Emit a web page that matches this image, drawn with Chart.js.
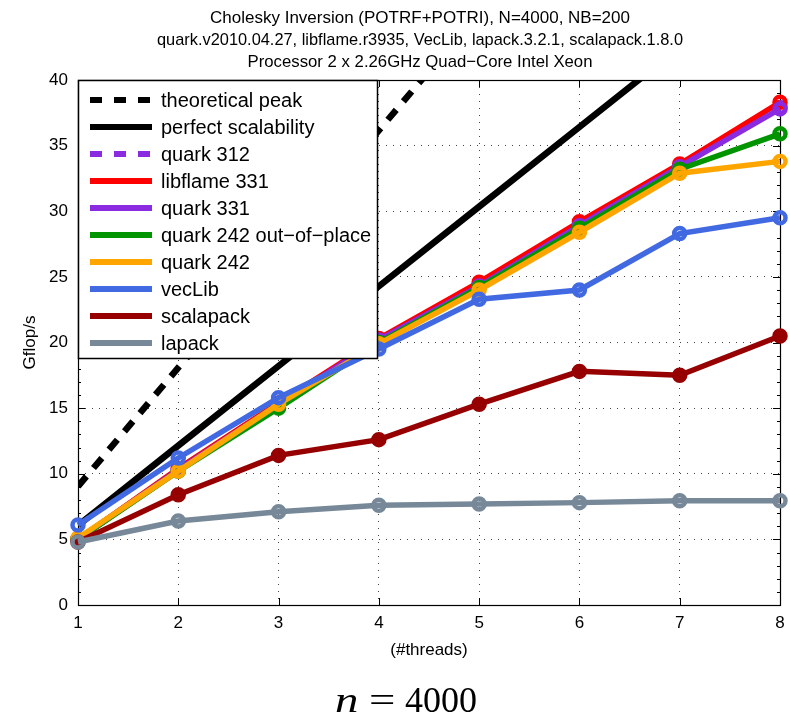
<!DOCTYPE html>
<html>
<head>
<meta charset="utf-8">
<script src="https://cdn.jsdelivr.net/npm/chart.js@4.4.0/dist/chart.umd.min.js"></script>
<style>
  html, body { margin: 0; padding: 0; background: #fff; }
  #wrap { width: 790px; height: 721px; }
</style>
</head>
<body>
<div id="wrap"><canvas id="chartCanvas"></canvas></div>
<script>
// values (Gflop/s per thread count)
const threads = [1, 2, 3, 4, 5, 6, 7, 8];
const theoreticalPeak = [9.04, 18.08, 27.12, 36.16, 45.2];
const perfectScalability = [6.07, 12.14, 18.21, 24.28, 30.35, 36.42, 42.49];
const quark312 = [5.0, 10.3, 15.3, 20.2, 24.3, 28.9, 33.4, 37.9];
const libflame331 = [5.0, 10.4, 15.4, 20.3, 24.6, 29.2, 33.6, 38.3];
const quark331 = [5.0, 10.3, 15.3, 20.2, 24.3, 28.9, 33.4, 37.8];
const quark242oop = [5.0, 10.2, 15.0, 20.0, 24.2, 28.7, 33.2, 35.9];
const quark242 = [5.1, 10.2, 15.3, 19.9, 24.0, 28.4, 32.9, 33.8];
const vecLib = [6.1, 11.2, 15.8, 19.5, 23.3, 24.0, 28.3, 29.5];
const scalapack = [4.8, 8.4, 11.4, 12.6, 15.3, 17.8, 17.5, 20.5];
const lapack = [4.8, 6.4, 7.1, 7.6, 7.7, 7.8, 7.95, 7.95];

const titleLines = [
  "Cholesky Inversion (POTRF+POTRI), N=4000, NB=200",
  "quark.v2010.04.27, libflame.r3935, VecLib, lapack.3.2.1, scalapack.1.8.0",
  "Processor 2 x 2.26GHz Quad\u2212Core Intel Xeon"
];

const FONT = '"Liberation Sans", Arial, sans-serif';

const series = [
  { label: "theoretical peak", data: theoreticalPeak, color: "#000000", dash: [13, 11], width: 6.5, marker: false },
  { label: "perfect scalability", data: perfectScalability, color: "#000000", dash: [], width: 6.5, marker: false },
  { label: "quark 312", data: quark312, color: "#8a2be2", dash: [12, 12], width: 5.5, marker: true },
  { label: "libflame 331", data: libflame331, color: "#ff0000", dash: [], width: 5.5, marker: true },
  { label: "quark 331", data: quark331, color: "#8a2be2", dash: [], width: 5.5, marker: true },
  { label: "quark 242 out\u2212of\u2212place", data: quark242oop, color: "#009400", dash: [], width: 5.5, marker: true },
  { label: "quark 242", data: quark242, color: "#ffa500", dash: [], width: 5.5, marker: true },
  { label: "vecLib", data: vecLib, color: "#4169e1", dash: [], width: 5.5, marker: true },
  { label: "scalapack", data: scalapack, color: "#960000", dash: [], width: 5.5, marker: true, filled: true },
  { label: "lapack", data: lapack, color: "#778899", dash: [], width: 5.5, marker: true }
];

const datasets = series.map((s, i) => ({
  label: s.label,
  data: s.data.map((v, k) => ({ x: threads[k], y: v })),
  borderColor: s.color,
  backgroundColor: s.color,
  borderWidth: s.width,
  borderDash: s.dash,
  pointRadius: s.marker ? 5.5 : 0,
  pointBorderWidth: 4.5,
  pointBorderColor: s.color,
  pointBackgroundColor: s.filled ? s.color : "rgba(0,0,0,0)",
  tension: 0,
  clip: s.marker ? 12 : 0,
  order: series.length - i   // later series painted on top
}));

// white page, box, inward ticks, titles and caption
const framePlugin = {
  id: "frame",
  beforeDraw(chart) {
    const ctx = chart.ctx;
    ctx.save();
    ctx.fillStyle = "#fff";
    ctx.fillRect(0, 0, chart.width, chart.height);
    ctx.restore();
  },
  beforeDatasetsDraw(chart) {
    const { ctx, chartArea: a, scales } = chart;
    ctx.save();
    ctx.strokeStyle = "#000";
    ctx.lineWidth = 1;
    ctx.beginPath();
    threads.forEach(t => {
      const x = Math.round(scales.x.getPixelForValue(t)) + 0.5;
      ctx.moveTo(x, a.bottom); ctx.lineTo(x, a.bottom - 7);
      ctx.moveTo(x, a.top); ctx.lineTo(x, a.top + 7);
    });
    for (let v = 0; v <= 40; v += 1) {
      const y = Math.round(scales.y.getPixelForValue(v)) + 0.5;
      const len = v % 5 === 0 ? 7 : 3;
      ctx.moveTo(a.left, y); ctx.lineTo(a.left + len, y);
      ctx.moveTo(a.right, y); ctx.lineTo(a.right - len, y);
    }
    ctx.stroke();
    ctx.lineWidth = 1.2;
    ctx.strokeRect(Math.round(a.left) + 0.5, Math.round(a.top) + 0.5,
      Math.round(a.right - a.left), Math.round(a.bottom - a.top));
    ctx.restore();
  },
  afterDraw(chart) {
    const ctx = chart.ctx;
    ctx.save();
    ctx.fillStyle = "#000";
    ctx.textAlign = "center";
    ctx.textBaseline = "middle";
    ctx.font = "17px " + FONT;
    const ys = [18, 40, 62];
    const widths = [466, 526, 345];
    titleLines.forEach((t, i) => ctx.fillText(t, 420, ys[i], widths[i]));
    // n = 4000 caption
    ctx.textAlign = "left";
    ctx.textBaseline = "alphabetic";
    const serif = '"Liberation Serif", "Times New Roman", serif';
    ctx.save();
    ctx.translate(335, 712);
    ctx.scale(1.3, 1);
    ctx.font = "italic 36px " + serif;
    ctx.fillText("n", 0, 0);
    ctx.restore();
    ctx.save();
    ctx.translate(369, 712);
    ctx.scale(1.3, 1);
    ctx.font = "36px " + serif;
    ctx.fillText("=", 0, 0);
    ctx.restore();
    ctx.font = "36px " + serif;
    ctx.fillText("4000", 405, 712);
    ctx.restore();
  }
};

// boxed legend inside the top-left of the plot
const boxLegend = {
  id: "boxLegend",
  afterDatasetsDraw(chart) {
    const { ctx, chartArea: a } = chart;
    const x0 = Math.round(a.left) + 0.5, y0 = Math.round(a.top) + 0.5;
    ctx.save();
    ctx.fillStyle = "#fff";
    ctx.fillRect(x0, y0, 299, 278);
    ctx.strokeStyle = "#000";
    ctx.lineWidth = 1.5;
    ctx.strokeRect(x0, y0, 299, 278);
    ctx.font = "20px " + FONT;
    ctx.textBaseline = "middle";
    ctx.textAlign = "left";
    series.forEach((s, i) => {
      const y = 100 + i * 27;
      ctx.beginPath();
      ctx.strokeStyle = s.color;
      ctx.lineWidth = 6;
      ctx.lineCap = "butt";
      ctx.setLineDash(s.dash.length ? [12, 12] : []);
      ctx.moveTo(90, y);
      ctx.lineTo(152, y);
      ctx.stroke();
      ctx.setLineDash([]);
      ctx.fillStyle = "#000";
      ctx.fillText(s.label, 161, y + 1, 212);
    });
    ctx.restore();
  }
};

new Chart(document.getElementById("chartCanvas"), {
  type: "line",
  data: { datasets },
  plugins: [framePlugin, boxLegend],
  options: {
    responsive: true,
    maintainAspectRatio: false,
    devicePixelRatio: 1,
    animation: false,
    events: [],
    layout: { padding: { top: 80, right: 10, bottom: 56, left: 16 } },
    plugins: {
      legend: { display: false },
      title: { display: false },
      tooltip: { enabled: false }
    },
    scales: {
      x: {
        type: "linear",
        min: 1,
        max: 8,
        afterFit: s => { s.height = 60; s.paddingLeft = 0; s.paddingRight = 0; },
        ticks: { stepSize: 1, color: "#000", font: { size: 17, family: FONT }, padding: 8 },
        grid: { color: "#444", lineWidth: 1, drawTicks: false },
        border: { display: false, dash: [1, 6] },
        title: { display: true, text: "(#threads)", color: "#000", font: { size: 17, family: FONT }, padding: { top: 4, bottom: 4 } }
      },
      y: {
        type: "linear",
        min: 0,
        max: 40,
        afterFit: s => { s.width = 62; },
        ticks: { stepSize: 5, color: "#000", font: { size: 17, family: FONT }, padding: 10 },
        grid: { color: "#444", lineWidth: 1, drawTicks: false },
        border: { display: false, dash: [1, 6] },
        title: { display: true, text: "Gflop/s", color: "#000", font: { size: 17, family: FONT }, padding: { top: 4, bottom: 4 } }
      }
    }
  }
});
</script>
</body>
</html>
